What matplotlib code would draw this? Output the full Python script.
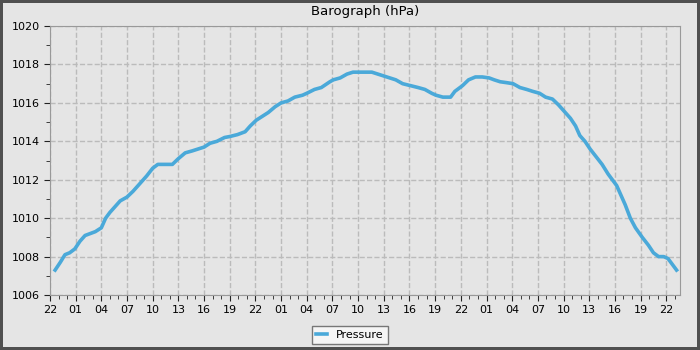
import datetime
from matplotlib import pyplot as plt
import matplotlib.dates as mdates

start = datetime.datetime(2024, 1, 1, 22, 0)

# hours after 22:00 on the first day, and pressure in hPa
hours = [0.6, 1.2, 1.75, 2.3, 2.9, 3.5, 4.1, 4.7, 5.3, 6.0, 6.5, 7.0, 7.6, 8.2,
         9.0, 9.7, 10.5, 11.3, 12.0, 12.6, 13.4, 14.3, 15.0, 15.8, 16.6, 17.3,
         18.0, 18.7, 19.5, 20.4, 21.0, 21.9, 22.8, 23.4, 24.1, 24.8, 25.5, 26.3,
         27.0, 27.8, 28.6, 29.5, 30.0, 30.9, 31.7, 32.7, 33.1, 33.9, 34.7,
         35.4, 36.1, 36.9, 37.6, 38.3, 39.0, 39.7, 40.4, 41.2, 42.1, 43.0,
         43.8, 44.6, 45.1, 45.9, 46.8, 47.3, 48.2, 48.9, 49.7, 50.5, 51.3,
         51.9, 52.6, 53.4, 54.1, 54.9, 55.7, 56.4, 57.2, 57.9, 58.7, 59.4,
         60.2, 60.8, 61.4, 61.9, 62.5, 63.1, 63.8, 64.5, 65.2, 66.2, 66.6,
         67.2, 67.8, 68.4, 69.2, 69.9, 70.5, 71.1, 71.7, 72.2, 72.7, 73.2]
pressure = [1007.3, 1007.7, 1008.1, 1008.2, 1008.4, 1008.8, 1009.1, 1009.2,
            1009.3, 1009.5, 1010.0, 1010.3, 1010.6, 1010.9, 1011.1, 1011.4,
            1011.8, 1012.2, 1012.6, 1012.8, 1012.8, 1012.8, 1013.1, 1013.4,
            1013.5, 1013.6, 1013.7, 1013.9, 1014.0, 1014.2, 1014.25, 1014.35,
            1014.5, 1014.8, 1015.1, 1015.3, 1015.5, 1015.8, 1016.0, 1016.1,
            1016.3, 1016.4, 1016.5, 1016.7, 1016.8, 1017.1, 1017.2, 1017.3,
            1017.5, 1017.6, 1017.6, 1017.6, 1017.6, 1017.5, 1017.4, 1017.3,
            1017.2, 1017.0, 1016.9, 1016.8, 1016.7, 1016.5, 1016.4, 1016.3,
            1016.3, 1016.6, 1016.9, 1017.2, 1017.35, 1017.35, 1017.3, 1017.2,
            1017.1, 1017.05, 1017.0, 1016.8, 1016.7, 1016.6, 1016.5, 1016.3,
            1016.2, 1015.9, 1015.5, 1015.2, 1014.8, 1014.3, 1014.0, 1013.6,
            1013.2, 1012.8, 1012.3, 1011.7, 1011.3, 1010.7, 1010.0, 1009.5,
            1009.0, 1008.6, 1008.2, 1008.0, 1008.0, 1007.9, 1007.6, 1007.3]

times = [start + datetime.timedelta(hours=h) for h in hours]

bg = '#e5e5e5'
fig = plt.figure(figsize=(7, 3.5), dpi=100, facecolor=bg,
                 edgecolor='#505050', linewidth=3)
ax = fig.add_axes([0.0714, 0.157, 0.9, 0.7686])
ax.set_facecolor(bg)

ax.plot(times, pressure, color='#4aa9d9', linewidth=2.6, label='Pressure')

ax.set_xlim(start, start + datetime.timedelta(hours=73.6))
ax.set_ylim(1006, 1020)
ax.set_yticks(range(1006, 1021, 2))
ax.set_yticks(range(1007, 1020, 2), minor=True)
ax.xaxis.set_major_locator(mdates.HourLocator(byhour=range(1, 24, 3)))
ax.xaxis.set_minor_locator(mdates.HourLocator())
ax.xaxis.set_major_formatter(mdates.DateFormatter('%H'))

ax.grid(True, which='major', linestyle='--', color='#bbbbbb', linewidth=1)
for s in ax.spines.values():
    s.set_color('#999999')
ax.tick_params(labelsize=8, length=4, color='#222222')
ax.tick_params(which='minor', length=3, color='#222222')
ax.set_title('Barograph (hPa)', fontsize=9.5, pad=8)

fig.legend(loc='lower center', bbox_to_anchor=(0.5, 0.0), fontsize=8,
           frameon=True, fancybox=False, edgecolor='#777777',
           facecolor='#f5f5f5', framealpha=1, handlelength=1)

plt.savefig('out.png', dpi=100, facecolor=bg, edgecolor=fig.get_edgecolor())
